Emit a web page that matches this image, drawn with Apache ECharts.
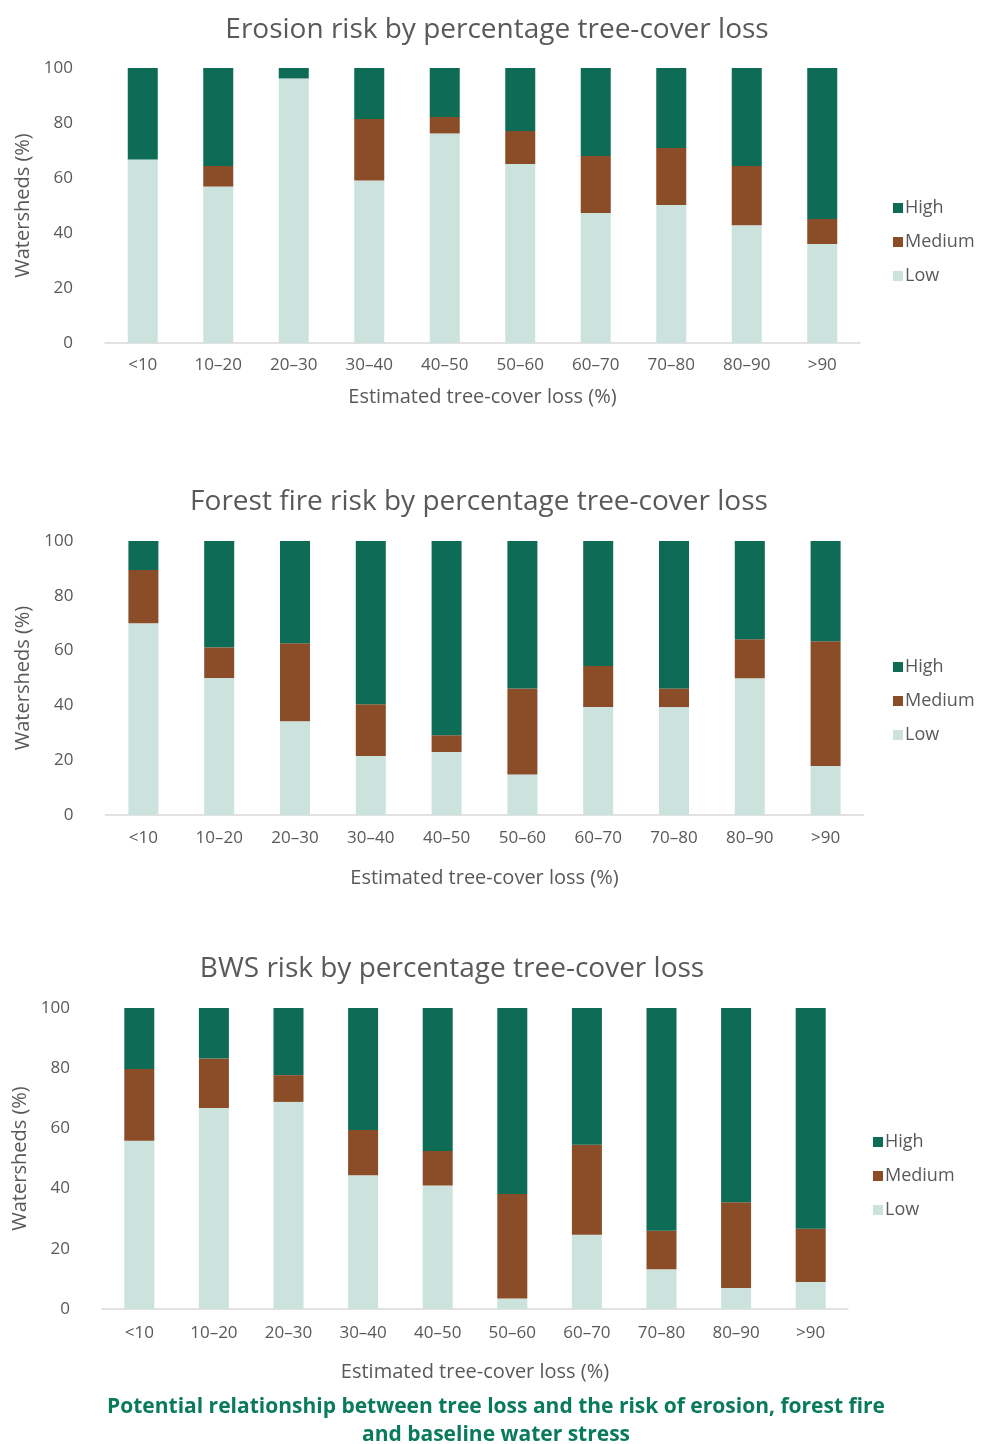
<!DOCTYPE html>
<html>
<head>
<meta charset="utf-8">
<script src="https://cdn.jsdelivr.net/npm/echarts@6/dist/echarts.min.js"></script>
<style>
  html, body { margin: 0; padding: 0; background: #fff; }
  #main { width: 982px; height: 1444px; }
</style>
</head>
<body>
<div id="main"></div>
<script>
// categories shared by all three panels
var categories = ['<10', '10–20', '20–30', '30–40', '40–50', '50–60', '60–70', '70–80', '80–90', '>90'];

// erosion risk (% of watersheds)
var erosionLow    = [66.7, 56.9, 96.2, 59.1, 76.2, 65.1, 47.3, 50.2, 42.8, 36.0];
var erosionMedium = [0, 7.5, 0, 22.4, 6.0, 12.0, 20.7, 20.7, 21.6, 9.1];
var erosionHigh   = [33.3, 35.6, 3.8, 18.5, 17.8, 22.9, 32.0, 29.1, 35.6, 54.9];

// forest fire risk
var fireLow    = [70.0, 50.0, 34.2, 21.5, 23.0, 14.8, 39.4, 39.4, 49.9, 17.9];
var fireMedium = [19.4, 11.2, 28.5, 18.9, 6.1, 31.4, 15.0, 6.8, 14.2, 45.5];
var fireHigh   = [10.6, 38.8, 37.3, 59.6, 70.9, 53.8, 45.6, 53.8, 35.9, 36.6];

// baseline water stress risk
var bwsLow    = [55.9, 66.8, 68.8, 44.4, 41.0, 3.5, 24.7, 13.2, 7.0, 9.0];
var bwsMedium = [23.8, 16.4, 8.9, 15.1, 11.5, 34.7, 29.9, 12.8, 28.5, 17.7];
var bwsHigh   = [20.3, 16.8, 22.3, 40.5, 47.5, 61.8, 45.4, 74.0, 64.5, 73.3];

var yTicks = [0, 20, 40, 60, 80, 100];

var colors = { High: '#0e6b55', Medium: '#8b4c28', Low: '#cce2dd' };
var txt = '#595959';
var font = "'Open Sans', 'Noto Sans', sans-serif";

// panel layout
var panels = [
    { title: 'Erosion risk by percentage tree-cover loss', titleX: 492, titleY: 11,
      left: 105, top: 68, width: 755, height: 275, legendLeft: 888, legendTop: 193,
      xNameGap: 44, xMargin: 14, yNameGap: 68,
      data: [erosionLow, erosionMedium, erosionHigh] },
    { title: 'Forest fire risk by percentage tree-cover loss', titleX: 474, titleY: 483,
      left: 105.5, top: 541, width: 758, height: 274, legendLeft: 888, legendTop: 652,
      xNameGap: 53, xMargin: 15, yNameGap: 69,
      data: [fireLow, fireMedium, fireHigh] },
    { title: 'BWS risk by percentage tree-cover loss', titleX: 447, titleY: 950,
      left: 102, top: 1008, width: 746, height: 301, legendLeft: 868, legendTop: 1127,
      xNameGap: 53, xMargin: 16, yNameGap: 72,
      data: [bwsLow, bwsMedium, bwsHigh] }
];

var chart = echarts.init(document.getElementById('main'));

var titles = [], grids = [], xAxes = [], yAxes = [], legends = [], series = [];
panels.forEach(function (p, i) {
    titles.push({
        text: p.title, left: p.titleX, top: p.titleY, textAlign: 'center',
        textStyle: { color: txt, fontSize: 28, fontWeight: 'normal', fontFamily: font }
    });
    grids.push({ left: p.left, top: p.top, width: p.width, height: p.height });
    xAxes.push({
        type: 'category', gridIndex: i, data: categories,
        axisLine: { lineStyle: { color: '#d9d9d9', width: 1.5 } },
        axisTick: { show: false },
        axisLabel: { color: txt, fontSize: 17, fontFamily: font, margin: p.xMargin },
        name: 'Estimated tree-cover loss (%)', nameLocation: 'middle',
        nameGap: p.xNameGap,
        nameTextStyle: { color: txt, fontSize: 20, fontFamily: font }
    });
    yAxes.push({
        type: 'value', gridIndex: i, min: yTicks[0], max: yTicks[yTicks.length - 1], interval: 20,
        splitLine: { show: false }, axisLine: { show: false }, axisTick: { show: false },
        axisLabel: { color: txt, fontSize: 17, fontFamily: font, margin: 32 },
        name: 'Watersheds (%)', nameLocation: 'middle', nameGap: p.yNameGap,
        nameTextStyle: { color: txt, fontSize: 20, fontFamily: font }
    });
    legends.push({
        orient: 'vertical', left: p.legendLeft, top: p.legendTop,
        data: ['High', 'Medium', 'Low'],
        itemWidth: 10, itemHeight: 10, itemGap: 14, icon: 'rect',
        selectedMode: false,
        textStyle: { color: txt, fontSize: 18, fontFamily: font, lineHeight: 20, padding: [0, 0, 0, -3] }
    });
    ['Low', 'Medium', 'High'].forEach(function (name, k) {
        series.push({
            name: name, type: 'bar', stack: 'p' + i,
            xAxisIndex: i, yAxisIndex: i,
            barWidth: 30,
            itemStyle: { color: colors[name] },
            data: p.data[k]
        });
    });
});

titles.push({
    text: 'Potential relationship between tree loss and the risk of erosion, forest fire\nand baseline water stress',
    left: 491, top: 1388, textAlign: 'center',
    textStyle: { color: '#0a7a5c', fontSize: 21, fontWeight: 'bold', fontFamily: font, lineHeight: 28, align: 'center' }
});

var option = {
    animation: false,
    title: titles,
    grid: grids,
    xAxis: xAxes,
    yAxis: yAxes,
    legend: legends,
    series: series
};
chart.setOption(option);
</script>
</body>
</html>
